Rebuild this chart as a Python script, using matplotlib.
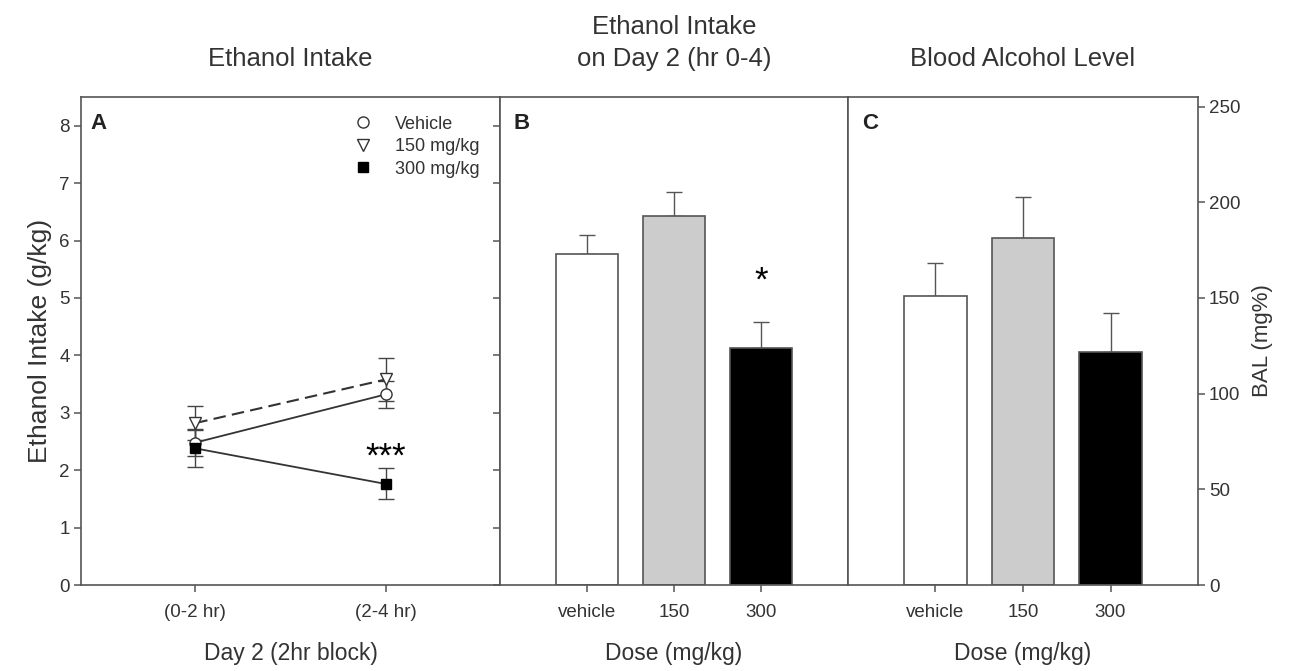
import matplotlib
matplotlib.use("Agg")
import matplotlib.pyplot as plt
import numpy as np

plt.rcParams['font.family'] = ['Liberation Sans', 'DejaVu Sans']

# ---- data ----
time_labels = ["(0-2 hr)", "(2-4 hr)"]
veh_line = [2.48, 3.32]
veh_line_err = [0.24, 0.24]
d150_line = [2.82, 3.58]
d150_line_err = [0.30, 0.38]
d300_line = [2.38, 1.76]
d300_line_err = [0.32, 0.27]

dose_labels = ["vehicle", "150", "300"]
intake_means = [5.77, 6.42, 4.12]
intake_err = [0.33, 0.42, 0.46]
bal_means = [151, 181.5, 121.5]
bal_err = [17, 21, 20.5]
bar_colors = ["white", "#cccccc", "black"]

W, H = 1305, 671
fig = plt.figure(figsize=(W / 100, H / 100), dpi=100)

def fx(px):
    return px / W

def fy(py):
    return 1 - py / H

bottom = fy(585)
height = fy(97) - bottom
axA = fig.add_axes([fx(81), bottom, fx(500) - fx(81), height])
axB = fig.add_axes([fx(500), bottom, fx(848) - fx(500), height])
axC = fig.add_axes([fx(848), bottom, fx(1198) - fx(848), height])

spine_col = "#555555"
text_col = "#333333"
TICK_FS = 13.5
LAB_FS = 16.5
TITLE_FS = 18.5
XLAB_PAD = 15
for ax in (axA, axB, axC):
    for s in ax.spines.values():
        s.set_color(spine_col)
        s.set_linewidth(1.2)
    ax.tick_params(colors=spine_col, labelcolor=text_col, width=1.1, length=5,
                   direction='out', labelsize=TICK_FS)
    ax.tick_params(axis='x', pad=9)
    ax.tick_params(axis='y', pad=3)

# ---- Panel A ----
x = np.array([1, 2])
ek = dict(capsize=5.5, elinewidth=1.0, capthick=1.0, ecolor="#444444")
axA.errorbar(x, veh_line, yerr=veh_line_err, color="#333333", lw=1.3, marker='o',
             mfc='white', mec='#333333', ms=8, mew=1.0, label="Vehicle", **ek)
axA.errorbar(x, d150_line, yerr=d150_line_err, color="#333333", lw=1.5, ls=(0, (6, 3)),
             marker='v', mfc='white', mec='#333333', ms=8, mew=1.0, label="150 mg/kg", **ek)
axA.errorbar(x, d300_line, yerr=d300_line_err, color="#333333", lw=1.3, marker='s',
             mfc='black', mec='black', ms=7.5, label="300 mg/kg", **ek)
axA.text(2, 2.22, "***", ha='center', va='center', fontsize=25, color='black')
axA.set_xlim(0.4, 2.6)
axA.set_ylim(0, 8.5)
axA.set_xticks(x)
axA.set_xticklabels(time_labels)
axA.set_yticks(range(0, 9))
axA.set_ylabel("Ethanol Intake (g/kg)", fontsize=19, color=text_col, labelpad=5)
axA.set_xlabel("Day 2 (2hr block)", fontsize=LAB_FS, color=text_col, labelpad=XLAB_PAD)
axA.set_title("Ethanol Intake", fontsize=TITLE_FS, color=text_col, pad=22)
axA.text(0.022, 0.968, "A", transform=axA.transAxes, fontsize=16, fontweight='bold',
         ha='left', va='top', color='#222222')
leg_handles = [
    plt.Line2D([], [], ls='none', marker='o', mfc='white', mec='#333333', ms=8),
    plt.Line2D([], [], ls='none', marker='v', mfc='white', mec='#333333', ms=8),
    plt.Line2D([], [], ls='none', marker='s', mfc='black', mec='black', ms=7),
]
axA.legend(leg_handles, ["Vehicle", "150 mg/kg", "300 mg/kg"], loc='upper right',
           bbox_to_anchor=(0.99, 0.995), frameon=False, fontsize=13, handletextpad=1.0,
           labelspacing=0.3, labelcolor=text_col, handlelength=1.5)

# ---- Panel B ----
xb = np.arange(3)
axB.bar(xb, intake_means, width=0.71, color=bar_colors, edgecolor="#555555", lw=1.2, zorder=2)
axB.errorbar(xb, intake_means, yerr=[[0, 0, 0], intake_err], fmt='none', ecolor="#555555",
             elinewidth=1.0, capsize=5.5, capthick=1.0, zorder=1)
axB.text(2, 5.3, "*", ha='center', va='center', fontsize=25, color='black')
axB.set_xlim(-1, 3)
axB.set_ylim(0, 8.5)
axB.set_xticks(xb)
axB.set_xticklabels(dose_labels)
axB.set_yticks(range(0, 9))
axB.tick_params(axis='y', left=True, labelleft=False)
axB.set_xlabel("Dose (mg/kg)", fontsize=LAB_FS, color=text_col, labelpad=XLAB_PAD)
axB.set_title("Ethanol Intake\non Day 2 (hr 0-4)", fontsize=TITLE_FS, color=text_col, pad=22,
              linespacing=1.45)
axB.text(0.04, 0.968, "B", transform=axB.transAxes, fontsize=16, fontweight='bold',
         ha='left', va='top', color='#222222')

# ---- Panel C ----
axC.bar(xb, bal_means, width=0.71, color=bar_colors, edgecolor="#555555", lw=1.2, zorder=2)
axC.errorbar(xb, bal_means, yerr=[[0, 0, 0], bal_err], fmt='none', ecolor="#555555",
             elinewidth=1.0, capsize=5.5, capthick=1.0, zorder=1)
axC.set_xlim(-1, 3)
axC.set_ylim(0, 255)
axC.set_xticks(xb)
axC.set_xticklabels(dose_labels)
axC.yaxis.tick_right()
axC.yaxis.set_label_position('right')
axC.set_yticks(range(0, 251, 50))
axC.tick_params(axis='y', left=False)
axC.set_ylabel("BAL (mg%)", fontsize=16, color=text_col, labelpad=8)
axC.set_xlabel("Dose (mg/kg)", fontsize=LAB_FS, color=text_col, labelpad=XLAB_PAD)
axC.set_title("Blood Alcohol Level", fontsize=TITLE_FS, color=text_col, pad=22)
axC.text(0.04, 0.968, "C", transform=axC.transAxes, fontsize=16, fontweight='bold',
         ha='left', va='top', color='#222222')

fig.savefig("out.png", dpi=100, facecolor='white')
